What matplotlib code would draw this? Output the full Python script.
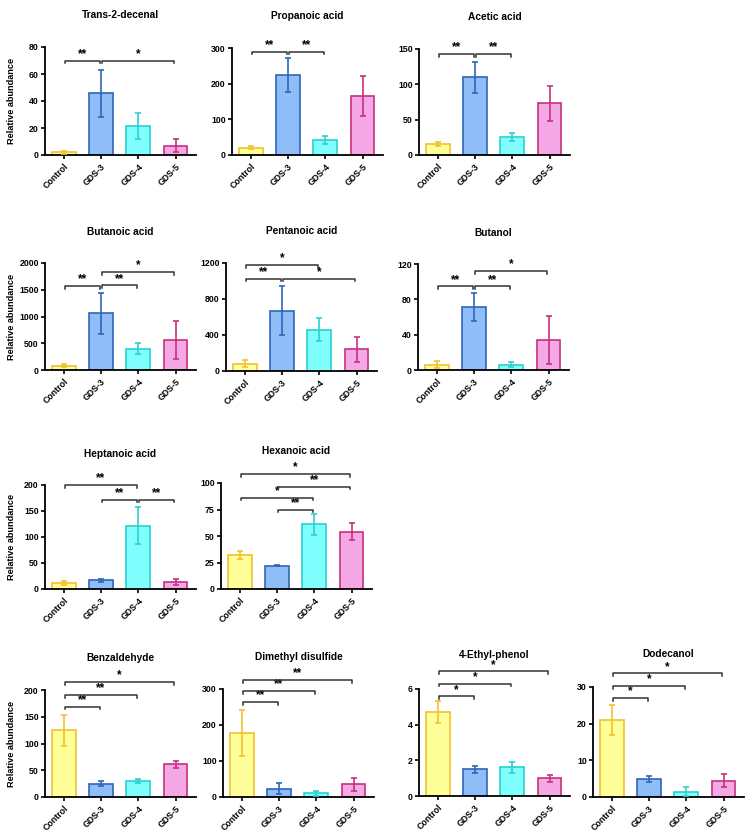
import numpy as np
import matplotlib
matplotlib.use("Agg")
import matplotlib.pyplot as plt

plt.rcParams['font.family'] = ['Liberation Sans', 'DejaVu Sans']
plt.rcParams['font.weight'] = 'bold'

# данные
compounds = ["Trans-2-decenal", "Propanoic acid", "Acetic acid",
             "Butanoic acid", "Pentanoic acid", "Butanol",
             "Heptanoic acid", "Hexanoic acid",
             "Benzaldehyde", "Dimethyl disulfide", "4-Ethyl-phenol", "Dodecanol"]
groups = ["Control", "GDS-3", "GDS-4", "GDS-5"]

control_mean = [2, 21, 16, 80, 80, 6, 11, 32, 125, 178, 4.7, 21]
gds3_mean = [45.7, 225, 110, 1060, 670, 71, 17, 22, 25, 23, 1.5, 5]
gds4_mean = [21.5, 42, 25, 400, 460, 6, 122, 61, 30, 10, 1.6, 1.5]
gds5_mean = [7, 165, 73, 560, 240, 34, 14, 54, 61, 35, 1.0, 4.5]

control_sd = [1, 5, 3, 25, 40, 4, 4, 4, 29, 65, 0.6, 4.2]
gds3_sd = [17.5, 47, 22, 380, 270, 16, 3, 0.5, 5, 15, 0.2, 0.8]
gds4_sd = [9.5, 10, 5.5, 100, 125, 3, 35, 10, 3, 8, 0.3, 1.2]
gds5_sd = [5, 57, 25, 350, 135, 27, 6, 8, 6, 18, 0.2, 1.9]

y_ticks = [[0, 20, 40, 60, 80], [0, 100, 200, 300], [0, 50, 100, 150],
           [0, 500, 1000, 1500, 2000], [0, 400, 800, 1200], [0, 40, 80, 120],
           [0, 50, 100, 150, 200], [0, 25, 50, 75, 100],
           [0, 50, 100, 150, 200], [0, 100, 200, 300], [0, 2, 4, 6], [0, 10, 20, 30]]

# значимость: (группа1, группа2, высота, метка)
brackets = [
    [(0, 1, 70, "**"), (1, 3, 70, "*")],
    [(0, 1, 290, "**"), (1, 2, 290, "**")],
    [(0, 1, 143, "**"), (1, 2, 143, "**")],
    [(0, 1, 1570, "**"), (1, 2, 1580, "**"), (1, 3, 1832, "*")],
    [(0, 1, 1025, "**"), (0, 2, 1180, "*"), (1, 3, 1025, "*")],
    [(0, 1, 95, "**"), (1, 2, 95, "**"), (1, 3, 112, "*")],
    [(0, 2, 200, "**"), (1, 2, 172, "**"), (2, 3, 172, "**")],
    [(0, 3, 108.5, "*"), (1, 3, 96.5, "**"), (0, 2, 86, "*"), (1, 2, 75, "**")],
    [(0, 1, 169, "**"), (0, 2, 190.6, "**"), (0, 3, 215, "*")],
    [(0, 1, 264, "**"), (0, 2, 295, "**"), (0, 3, 325, "**")],
    [(0, 1, 5.6, "*"), (0, 2, 6.3, "*"), (0, 3, 7.0, "*")],
    [(0, 1, 27, "*"), (0, 2, 30.3, "*"), (0, 3, 33.7, "*")],
]

fill_colors = ["#FFFF99", "#8FBDF7", "#80FFFF", "#F5A8E6"]
edge_colors = ["#F2C12E", "#2F66B8", "#2CCFD0", "#C8307E"]

# положение осей в пикселях: левый край, верх (макс. тик), низ (ноль), y заголовка
layout = [
    (45, 47, 155, 15), (232, 48, 155, 16), (419, 49, 155, 17),
    (45, 263, 370, 232), (226, 263, 371, 231), (418, 264, 370, 233),
    (45, 485, 589, 454), (221, 483, 589, 451),
    (45, 690, 797, 658), (223, 689, 797, 657), (419, 689, 796, 655), (593, 687, 797, 654),
]
ylabel_panels = [0, 3, 6, 8]

W, H = 752, 839
fig = plt.figure(figsize=(W / 100, H / 100), dpi=100)

step = 37.3
x = np.arange(4)
for k, name in enumerate(compounds):
    left, top, bottom, ty = layout[k]
    width = 4.05 * step
    ax = fig.add_axes([left / W, 1 - bottom / H, width / W, (bottom - top) / H])
    means = [control_mean[k], gds3_mean[k], gds4_mean[k], gds5_mean[k]]
    sds = [control_sd[k], gds3_sd[k], gds4_sd[k], gds5_sd[k]]
    ax.bar(x, means, 0.64, color=fill_colors, edgecolor=edge_colors, linewidth=1.2, zorder=2)
    for i in range(4):
        ax.errorbar(x[i], means[i], yerr=sds[i], color=edge_colors[i], capsize=2.5,
                    elinewidth=1.2, capthick=1.2, zorder=3)
    ax.set_xlim(-0.5, 3.55)
    ax.set_ylim(0, y_ticks[k][-1])
    ax.set_yticks(y_ticks[k])
    ax.set_xticks(x)
    ax.set_xticklabels(groups, rotation=45, ha='right', rotation_mode='anchor',
                       fontsize=6.3, fontweight='bold')
    ax.tick_params(axis='y', labelsize=6.3, length=3, width=1.2, pad=1.5)
    ax.tick_params(axis='x', length=3, width=1.2, pad=2)
    for lbl in ax.get_yticklabels():
        lbl.set_fontweight('bold')
    ax.spines['top'].set_visible(False)
    ax.spines['right'].set_visible(False)
    ax.spines['left'].set_linewidth(1.3)
    ax.spines['bottom'].set_linewidth(1.3)
    if k in ylabel_panels:
        ax.set_ylabel("Relative abundance", fontsize=6.6, fontweight='bold')
        ax.yaxis.set_label_coords((16 - left) / width, 0.5)
    fig.text((left + width / 2) / W, 1 - ty / H, name, ha='center', va='center',
             fontsize=7.3, fontweight='bold')

    ymax = y_ticks[k][-1]
    tick_len = ymax * 0.025
    for (a, b, h, lab) in brackets[k]:
        xa, xb = x[a] + 0.03, x[b] - 0.03
        ax.plot([xa, xa, xb, xb], [h - tick_len, h, h, h - tick_len], color='#333333',
                lw=1.1, clip_on=False, zorder=4)
        ax.annotate(lab, xy=((x[a] + x[b]) / 2, h), xytext=(0, 0.3),
                    textcoords='offset points', ha='center', va='bottom',
                    fontsize=8.5, fontweight='bold', annotation_clip=False)

fig.savefig("out.png", dpi=100)
